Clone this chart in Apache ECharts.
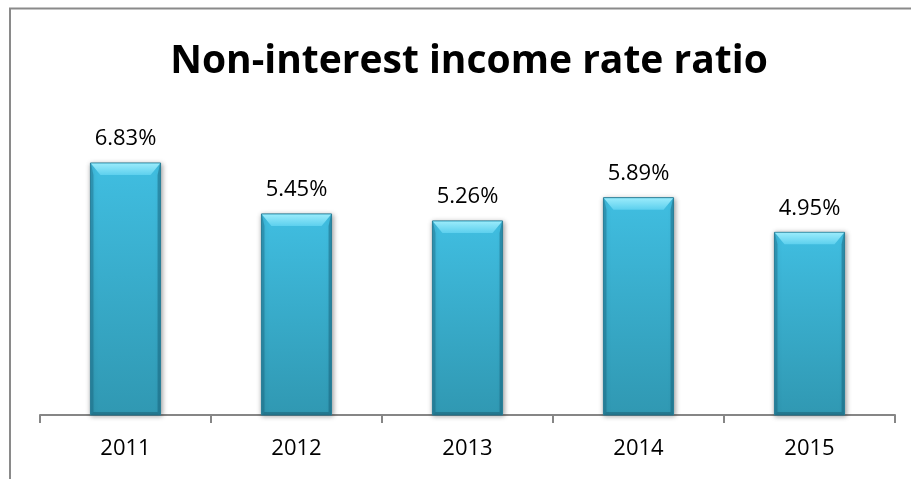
<!DOCTYPE html>
<html>
<head>
<meta charset="utf-8">
<title>Non-interest income rate ratio</title>
<script src="https://cdn.jsdelivr.net/npm/echarts@6/dist/echarts.min.js"></script>
<style>
  html, body { margin: 0; padding: 0; background: #ffffff; }
  #chart { width: 911px; height: 479px; }
</style>
</head>
<body>
<div id="chart"></div>
<script>
// Yearly non-interest income rate ratio, in percent
const years = ['2011', '2012', '2013', '2014', '2015'];
const ratios = [6.83, 5.45, 5.26, 5.89, 4.95];

const FONT = 'Open Sans';

// Bevelled bar: body, light top bevel, darker side and bottom edges, value label
function renderBar(params, api) {
  const cat = api.value(0);
  const val = api.value(1);
  const top = api.coord([cat, val]);
  const base = api.coord([cat, 0]);
  const bw = api.size([1, 0])[0] * 0.41;
  const x0 = top[0] - bw / 2, x1 = top[0] + bw / 2;
  const y0 = top[1], y1 = base[1];
  const bv = 12, bs = 10, side = 3;

  return {
    type: 'group',
    children: [
      {
        type: 'rect',
        shape: { x: x0, y: y0, width: bw, height: y1 - y0 },
        style: {
          fill: new echarts.graphic.LinearGradient(0, 0, 0, 1, [
            { offset: 0, color: '#40bee1' },
            { offset: 1, color: '#3098b2' }
          ]),
          stroke: '#2a7f98',
          lineWidth: 1,
          shadowBlur: 5,
          shadowColor: 'rgba(0,0,0,0.35)',
          shadowOffsetX: 1,
          shadowOffsetY: 1
        }
      },
      {
        type: 'polygon',
        shape: { points: [[x0 + 0.5, y0 + 0.5], [x0 + side, y0 + bv], [x0 + side, y1 - side], [x0 + 0.5, y1]] },
        style: { fill: 'rgba(20,90,115,0.35)' }
      },
      {
        type: 'polygon',
        shape: { points: [[x1 - 0.5, y0 + 0.5], [x1 - side, y0 + bv], [x1 - side, y1 - side], [x1 - 0.5, y1]] },
        style: { fill: 'rgba(20,90,115,0.45)' }
      },
      {
        type: 'polygon',
        shape: { points: [[x0 + 0.5, y1], [x0 + side, y1 - side], [x1 - side, y1 - side], [x1 - 0.5, y1]] },
        style: { fill: 'rgba(20,80,100,0.4)' }
      },
      {
        type: 'polygon',
        shape: { points: [[x0 + 0.5, y0 + 0.5], [x1 - 0.5, y0 + 0.5], [x1 - bs, y0 + bv], [x0 + bs, y0 + bv]] },
        style: {
          fill: new echarts.graphic.LinearGradient(0, 0, 0, 1, [
            { offset: 0, color: '#9aebfb' },
            { offset: 1, color: '#5dd0ee' }
          ])
        }
      },
      {
        type: 'text',
        style: {
          text: val.toFixed(2) + '%',
          x: top[0],
          y: y0 - 13,
          align: 'center',
          verticalAlign: 'bottom',
          fontFamily: FONT,
          fontSize: 22,
          fill: '#000000'
        }
      }
    ]
  };
}

const chart = echarts.init(document.getElementById('chart'), null, { renderer: 'canvas' });

chart.setOption({
  backgroundColor: '#ffffff',
  animation: false,
  title: {
    text: 'Non-interest income rate ratio',
    left: 464,
    top: 37,
    textAlign: 'center',
    textStyle: { fontFamily: FONT, fontWeight: 'bold', fontSize: 39, color: '#000000' }
  },
  graphic: [
    {
      type: 'polyline',
      shape: { points: [[10, 1000], [10, 8.5], [1000, 8.5]] },
      style: { stroke: '#8a8a8a', lineWidth: 2, fill: null }
    }
  ],
  grid: { left: 40, right: 16, top: 46, bottom: 64 },
  xAxis: {
    type: 'category',
    data: years,
    boundaryGap: true,
    axisLine: { show: true, lineStyle: { color: '#868686', width: 2 } },
    axisTick: { show: true, length: 8, alignWithLabel: false, lineStyle: { color: '#868686', width: 2 } },
    axisLabel: { fontFamily: FONT, fontSize: 22, color: '#000000', margin: 23 }
  },
  yAxis: {
    type: 'value',
    min: 0,
    max: 10,
    show: false,
    splitLine: { show: false }
  },
  series: [
    {
      type: 'custom',
      renderItem: renderBar,
      encode: { x: 0, y: 1 },
      data: years.map((y, i) => [i, ratios[i]])
    }
  ]
});
</script>
</body>
</html>
